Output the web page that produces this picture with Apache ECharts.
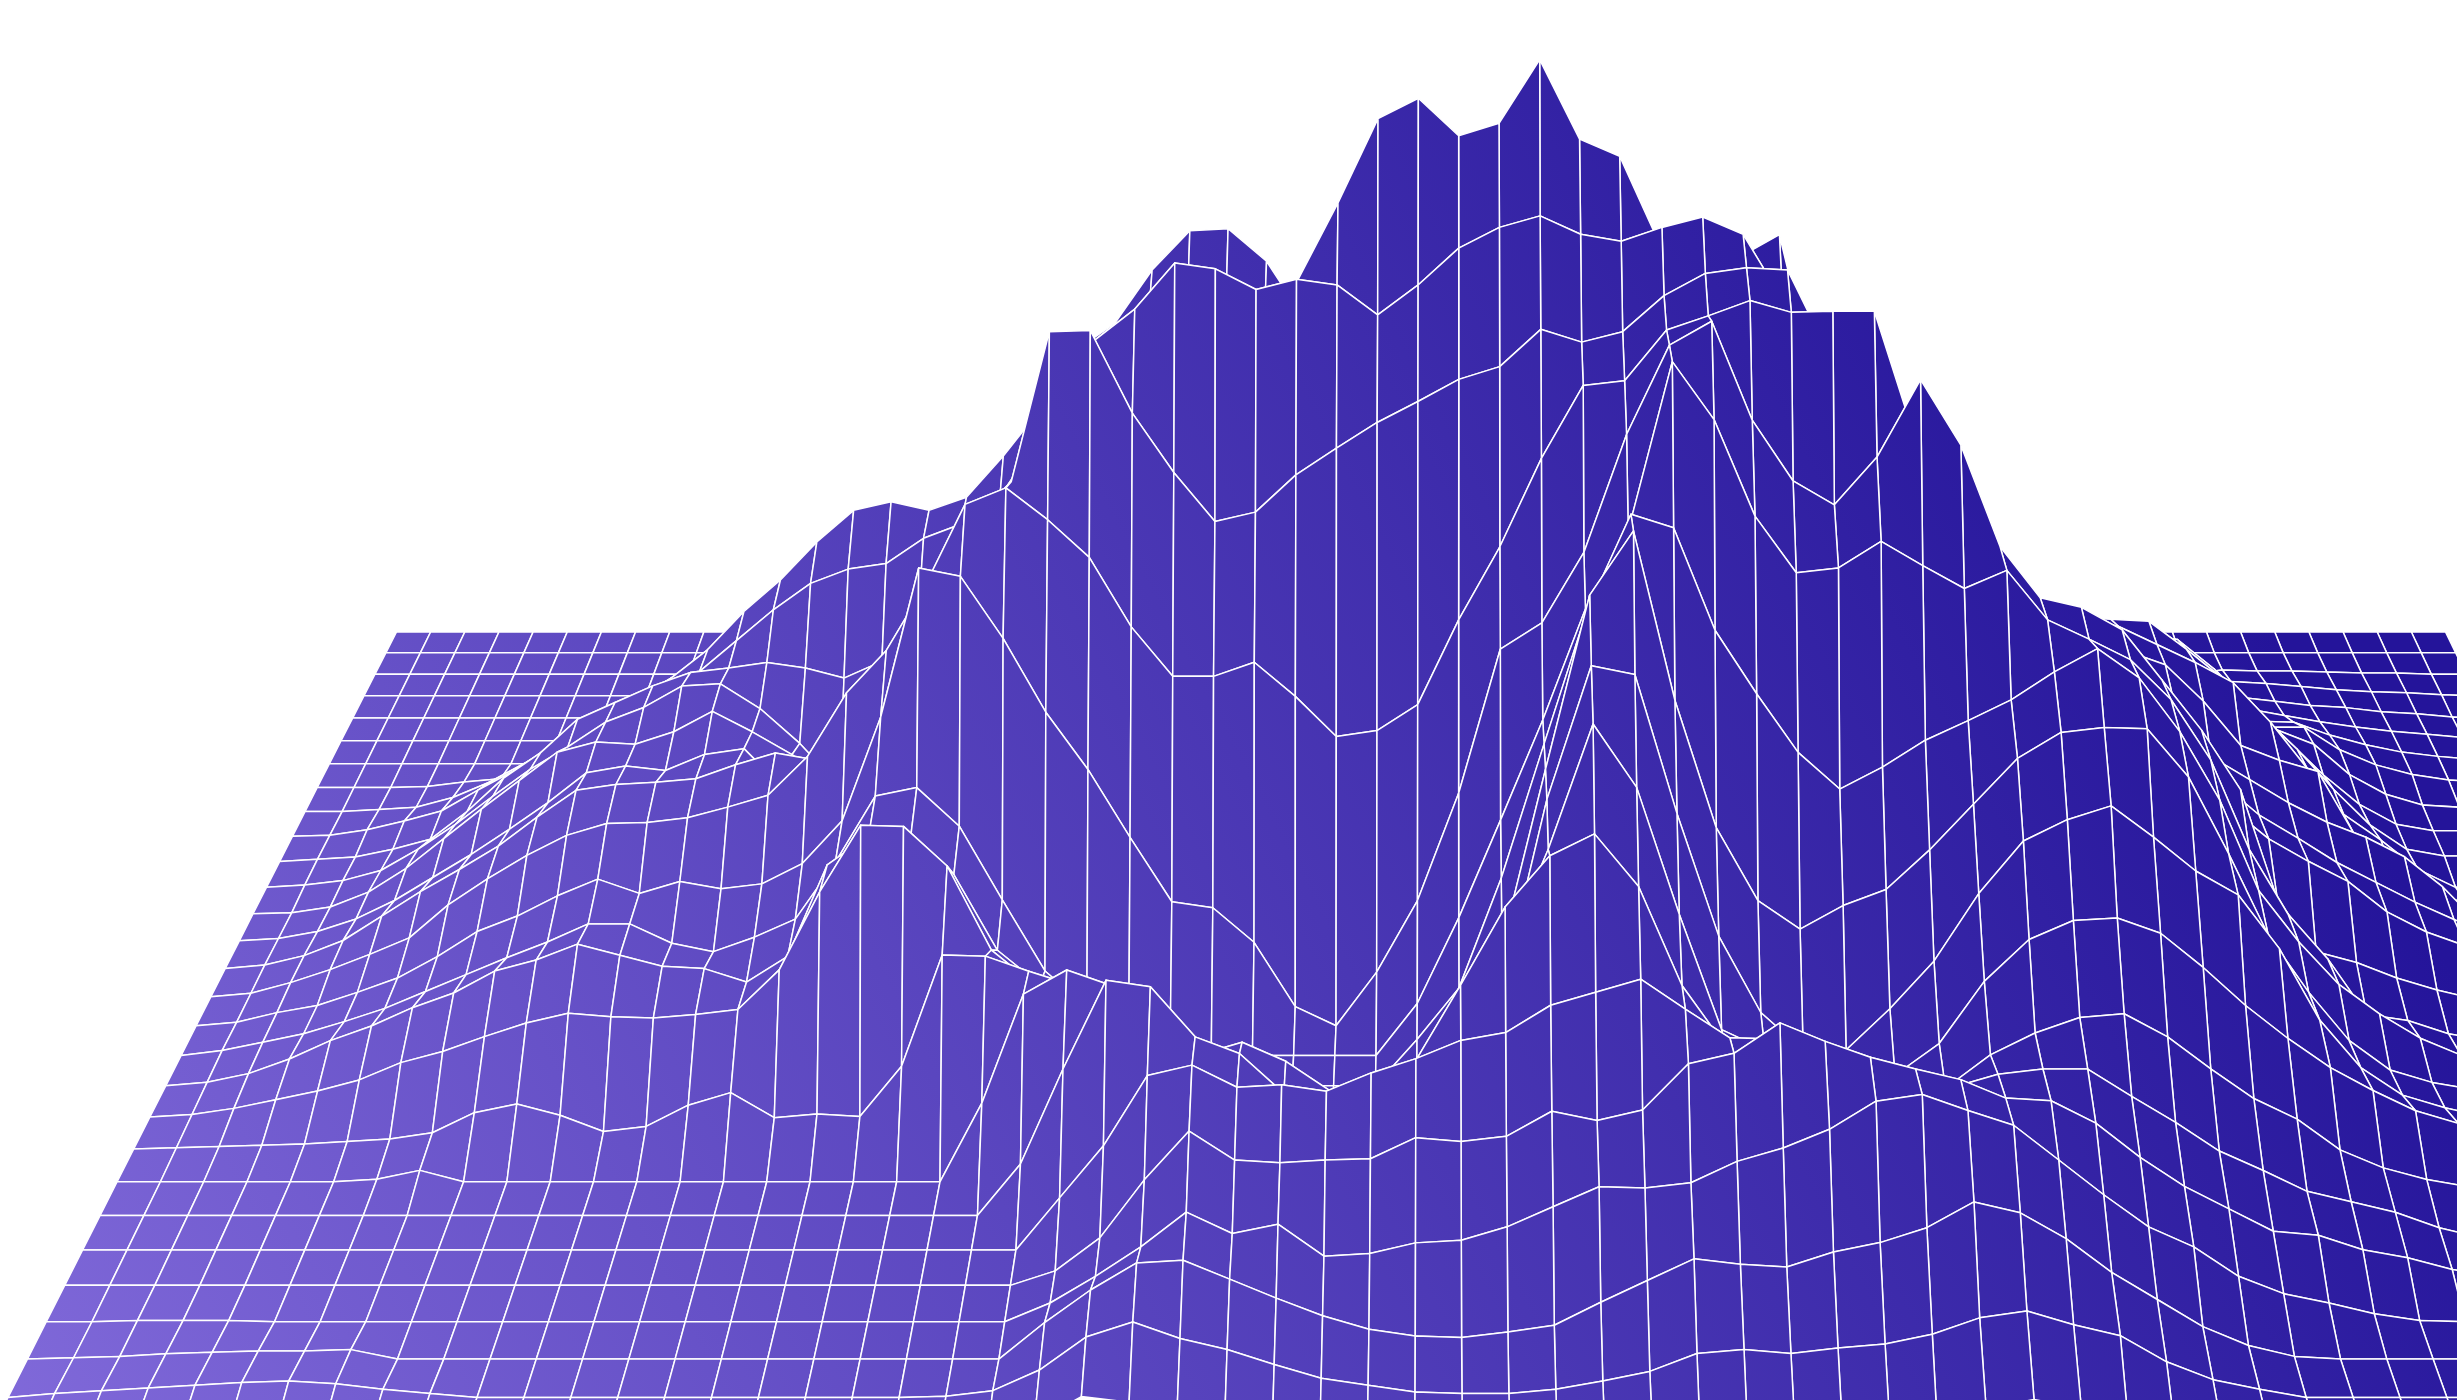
<!DOCTYPE html>
<html><head><meta charset="utf-8">
<style>html,body{margin:0;padding:0;background:#fff}#c{width:2457px;height:1400px}</style>
<script src="https://cdn.jsdelivr.net/npm/echarts@6/dist/echarts.min.js"></script>
</head><body><div id="c"></div>
<script>
// Height of the surface at each grid vertex, one array per grid row (back to front), 61 columns.
const row00=[0,0,0,0,0,0,0,0,0,0, 0,0,0,0,0,0,0,0,0,0, 0,0,0,0,0,0,0,0,0,0, 0,0,0,0,0,0,0,0,0,0, 0,0,0,0,0,0,0,0,0,0, 0,0,0,0,0,0,0,0,0,0, 0];
const row01=[0,0,0,0,0,0,0,0,0,0, 0,0,0,0,0,0,0,0,0,0, 0,0,0,0,0,0,0,0,0,0, 0,0,0,0,0,0,0,0,0,0, 0,0,0,0,0,0,0,0,0,0, 0,0,0,0,0,0,0,0,0,0, 0];
const row02=[0,0,0,0,0,0,0,0,0,0, 0,0,0,0,0,0,0,0,0,0, 0,0,0,0,0,0,0,0,0,0, 0,0,0,0,0,0,0,0,0,0, 0,0,0,0,0,0,0,0,0,0, 0,0,0,4,3,3,2,1,1,0, 0];
const row03=[0,0,0,0,0,0,0,0,0,0, 0,0,0,0,0,0,0,0,0,0, 0,0,0,0,0,0,0,0,0,0, 0,0,0,0,0,0,0,0,0,0, 0,0,0,0,0,0,0,0,0,0, 0,0,0,14,12,9,6,4,3,1, 0];
const row04=[0,0,0,0,0,0,0,0,0,0, 0,0,0,0,0,0,0,0,0,0, 0,0,0,0,0,0,0,0,0,0, 0,0,0,0,0,0,0,0,0,0, 0,0,0,0,0,0,0,0,0,0, 0,0,0,20,16,12,10,6,4,1, 0];
const row05=[0,0,0,0,0,0,0,0,0,0, 0,0,0,0,0,0,0,0,0,0, 0,0,0,0,0,0,0,0,0,0, 0,0,0,0,0,0,0,0,0,0, 0,0,0,0,0,0,0,0,0,0, 0,0,0,30,24,18,13,9,6,3, 0];
const row06=[0,0,0,0,0,0,0,5,15,30, 50,70,95,125,155,180,195,190,200,230, 240,240,240,240,240,240,240,240,240,240, 240,240,240,240,240,240,240,240,240,240, 200,180,160,140,120,100,90,80,70,60, 50,45,42,40,39,27,18,11,7,4, 0];
const row07=[0,0,0,1,5,8,18,33,49,68, 86,114,147,175,212,240,244,240,249,286, 333,300,300,300,300,300,300,300,300,300, 300,300,300,300,300,300,300,300,300,300, 250,220,190,160,130,110,100,95,90,80, 60,58,57,56,56,35,21,12,7,5, 0];
const row08=[0,0,2,4,13,27,45,65,89,103, 123,149,184,213,248,277,285,277,289,327, 370,425,449,498,534,536,506,452,420,420, 420,420,420,420,420,420,420,420,420,420, 340,300,260,220,190,170,165,160,155,150, 120,105,90,75,62,34,16,6,4,3, 0];
const row09=[0,1,6,14,23,42,60,80,100,120, 138,150,178,206,230,243,248,271,284,300, 350,400,450,480,490,490,480,450,500,500, 500,500,500,500,500,500,480,480,480,480, 420,370,320,280,240,193,190,188,186,184, 179,152,120,88,56,29,11,5,5,5, 0];
const row10=[0,2,4,11,20,45,75,98,128,143, 158,170,174,179,174,165,180,230,280,320, 370,420,460,490,500,500,490,470,510,510, 510,510,510,510,510,510,490,490,490,490, 397,353,308,272,236,231,225,220,218,216, 191,164,132,101,65,33,11,5,5,5, 0];
const row11=[0,2,6,15,34,56,81,105,125,147, 160,179,181,159,128,90,100,130,170,210, 270,340,420,480,510,510,510,520,540,540, 540,540,540,540,540,540,540,540,540,500, 451,398,353,309,256,251,247,240,232,216, 200,182,147,106,65,42,16,0,0,0, 0];
const row12=[0,1,6,19,40,66,92,117,142,151, 149,160,178,160,140,109,140,170,210,250, 300,370,450,500,530,530,530,558,625,699, 717,684,695,751,681,666,590,540,577,597, 461,420,390,338,280,272,269,258,231,219, 187,148,135,125,70,39,21,8,0,0, 0];
const row13=[0,2,8,19,35,55,75,97,120,146, 152,148,162,167,131,150,170,210,280,360, 390,490,522,549,589,584,566,575,570,544, 570,602,620,630,614,608,620,629,614,557, 488,470,427,366,305,292,288,275,253,210, 160,140,120,103,90,73,47,14,0,0, 0];
const row14=[0,3,11,24,45,66,85,105,130,153, 158,160,163,175,185,179,205,248,308,385, 418,547,548,477,426,384,392,424,447,469, 487,506,517,549,538,547,578,597,602,600, 531,470,454,402,334,308,304,295,265,213, 160,132,112,91,74,57,42,29,16,5, 0];
const row15=[0,3,12,23,36,50,78,100,120,137, 147,148,152,161,171,204,258,294,350,418, 432,405,373,314,272,272,284,255,221,226, 248,320,382,457,519,523,566,578,591,581, 582,582,479,447,370,337,328,303,261,214, 161,134,115,98,72,55,43,31,18,6, 0];
const row16=[0,3,11,17,28,40,58,79,92,109, 123,111,121,115,119,136,172,259,384,377, 325,263,215,158,104,99,70,16,0,45, 105,195,316,338,397,496,571,591,508,457, 437,477,542,487,402,359,351,332,290,248, 198,106,62,53,40,30,22,14,8,3, 0];
const row17=[0,4,11,18,28,39,53,67,81,94, 109,109,93,86,98,113,160,215,222,190, 129,70,40,10,0,0,0,0,0,0, 43,114,195,278,370,435,575,527,447,400, 404,426,406,387,402,361,345,328,295,245, 171,117,80,34,29,18,12,8,4,2, 0];
const row18=[0,3,10,22,37,49,64,76,94,103, 116,107,98,96,85,106,181,205,205,173, 111,83,38,5,0,0,0,0,0,0, 38,80,170,280,390,468,457,373,321,273, 243,261,283,299,316,339,358,334,290,234, 160,118,83,59,39,25,16,10,6,2, 0];
const row19=[0,2,7,14,21,30,44,53,65,76, 84,81,80,83,87,119,182,236,235,203, 135,107,60,20,5,0,0,0,0,0, 10,66,139,281,422,474,337,234,175,152, 171,184,216,253,290,311,315,314,275,213, 147,101,62,38,28,22,15,10,6,2, 0];
const row20=[0,1,2,3,4,6,8,13,29,36, 27,14,18,35,45,25,28,26,66,155, 154,142,131,60,20,5,0,0,0,0, 10,71,131,279,386,379,268,170,109,79, 79,112,150,204,246,263,274,249,222,203, 160,103,65,43,33,25,17,11,6,2, 0];
const row21=[0,0,0,0,0,0,2,9,0,0, 0,0,0,0,0,0,0,0,0,0, 62,148,167,155,120,100,110,95,72,65, 65,111,180,262,361,311,211,120,104,92, 84,84,109,158,191,206,208,196,169,139, 113,90,72,56,46,35,24,15,8,3, 0];
const row22=[0,0,0,0,0,0,0,0,0,0, 0,0,0,0,0,0,0,0,0,0, 0,40,114,183,178,139,126,95,90,101, 121,179,240,280,297,256,179,132,125,117, 109,105,99,125,142,154,157,139,114,91, 75,51,37,28,22,16,11,7,4,1, 0];
const row23=[0,0,0,0,0,0,0,0,0,0, 0,0,0,0,0,0,0,0,0,0, 0,0,40,80,134,142,125,127,122,136, 147,161,167,188,198,208,185,163,162,150, 138,131,125,135,139,139,118,98,76,61, 45,37,29,17,9,5,3,0,0,0, 0];
const row24=[0,0,0,0,0,0,0,0,0,0, 0,0,0,0,0,0,0,0,0,0, 0,0,11,36,80,117,95,93,95,96, 112,109,113,132,125,133,168,176,199,185, 173,164,156,142,140,123,97,75,58,41, 38,27,21,12,7,4,2,0,0,0, 0];
const row25=[0,0,1,1,1,0,0,0,0,0, 0,0,0,0,0,0,0,0,0,0, 0,0,14,34,56,82,66,73,49,51, 59,61,71,86,101,100,104,120,130,144, 165,170,158,147,121,95,71,56,34,21, 14,6,1,0,0,0,0,0,0,0, 0];
const row26=[0,1,2,4,5,6,6,7,0,0, 0,0,0,0,0,0,0,0,0,0, 0,0,27,51,71,73,59,45,32,22, 17,16,20,25,42,58,74,70,68,79, 86,97,116,108,89,64,44,24,10,2, 0,0,0,0,0,0,0,0,0,0, 0];
const row27=[0,3,5,7,9,11,12,10,6,3, 0,0,0,0,0,0,0,0,0,0, 1,5,20,44,55,43,35,24,14,9, 4,3,3,6,12,19,32,35,32,36, 39,46,58,63,53,45,26,13,6,0, 0,0,0,0,0,0,0,0,0,0, 0];
const row28=[0,0,0,0,0,0,0,0,0,0, 0,0,0,0,0,0,0,0,0,0, 0,0,10,29,25,15,8,3,0,0, 0,0,0,0,0,0,0,0,0,0, 0,0,20,27,20,8,0,0,0,0, 0,0,0,0,0,0,0,0,0,0, 0];

const rows=[row00,row01,row02,row03,row04,row05,row06,row07,row08,row09,row10,row11,row12,row13,row14,row15,row16,row17,row18,row19,row20,row21,row22,row23,row24,row25,row26,row27,row28];

// Perspective camera
function project(u,r,h){
  const s=1/(1-0.01007*r);
  const cx=1421-0.22*r;
  return [cx+(u-30)*34.15*s*(1+5.5e-5*h), -1418+2050*s-h*s];
}

// cells, painted back to front and outside-in
const cells=[];
for(let r=0;r<rows.length-1;r++){
  const line=[];
  for(let u=0;u<60;u++) line.push([u,r,rows[r][u],rows[r][u+1],rows[r+1][u+1],rows[r+1][u]]);
  line.sort((a,b)=>Math.abs(b[0]-29.5)-Math.abs(a[0]-29.5));
  cells.push(...line);
}

const fill={type:'linear',x:0,y:1400,x2:2100,y2:300,global:true,
  colorStops:[{offset:0,color:'#8069d9'},{offset:1,color:'#24149a'}]};

const chart=echarts.init(document.getElementById('c'),null,{renderer:'canvas'});
chart.setOption({
  animation:false,
  backgroundColor:'#ffffff',
  grid:{left:0,right:0,top:0,bottom:0},
  xAxis:{type:'value',min:0,max:2457,show:false},
  yAxis:{type:'value',min:0,max:1400,inverse:true,show:false},
  series:[{
    type:'custom',coordinateSystem:'cartesian2d',silent:true,progressive:0,clip:true,
    data:cells,
    encode:{x:0,y:1},
    renderItem:function(params,api){
      const u=api.value(0),r=api.value(1);
      const pts=[project(u,r,api.value(2)),project(u+1,r,api.value(3)),
                 project(u+1,r+1,api.value(4)),project(u,r+1,api.value(5))].map(p=>api.coord(p));
      return {type:'polygon',shape:{points:pts},
        style:{fill:fill,stroke:'#ffffff',lineWidth:1.5,lineJoin:'round'}};
    }
  }]
});
</script></body></html>
